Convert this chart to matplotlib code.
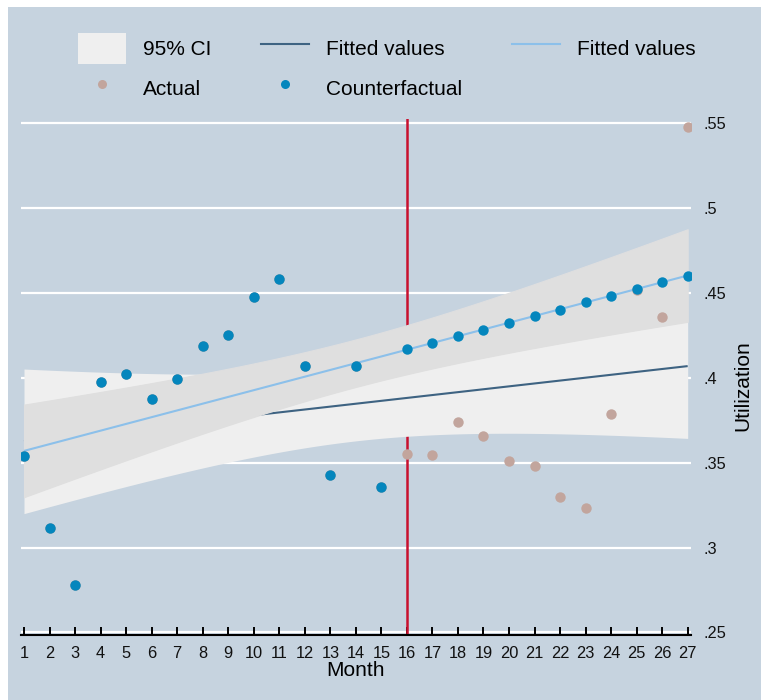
import numpy as np
import matplotlib
matplotlib.use("Agg")
import matplotlib.pyplot as plt
from matplotlib.patches import Rectangle, Patch
from matplotlib.lines import Line2D

plt.rcParams['font.family'] = ['Liberation Sans', 'DejaVu Sans']

# ---------------- data ----------------
months = np.arange(1, 28)
counterfactual = [0.354, 0.3115, 0.278, 0.3975, 0.4025, 0.3876, 0.3996, 0.4187,
                  0.4253, 0.4477, 0.4581, 0.4069, 0.3425, 0.4069, 0.3356,
                  0.4169, 0.4204, 0.4247, 0.4284, 0.4326, 0.4365, 0.4400,
                  0.4448, 0.4483, 0.4524, 0.4564, 0.4603]
actual = [0.354, 0.3115, 0.278, 0.3975, 0.4025, 0.3876, 0.3996, 0.4187,
          0.4253, 0.4477, 0.4581, 0.4069, 0.3425, 0.4069, 0.3356,
          0.355, 0.3545, 0.374, 0.366, 0.351, 0.348, 0.330, 0.3235,
          0.379, 0.452, 0.436, 0.548]
intervention_month = 16
ytick_vals = [0.25, 0.30, 0.35, 0.40, 0.45, 0.50, 0.55]
ytick_labels = ['.25', '.3', '.35', '.4', '.45', '.5', '.55']
legend_labels = ['95% CI', 'Fitted values', 'Fitted values', 'Actual', 'Counterfactual']

# colours
BG = '#C6D3DF'
CI_LIGHT = '#EFEFEF'
CI_DARK = '#DFDFDF'
NAVY = '#3E6382'
LIGHTBLUE = '#8CC0EA'
TAN = '#C2A59D'
BLUE = '#0486BD'
RED = '#C8102E'


def lfitci(x, y, grid, t=2.0595):
    x = np.asarray(x, float)
    y = np.asarray(y, float)
    b, a = np.polyfit(x, y, 1)
    resid = y - (a + b * x)
    n = len(x)
    s = np.sqrt(np.sum(resid ** 2) / (n - 2))
    sxx = np.sum((x - x.mean()) ** 2)
    fit = a + b * grid
    se = s * np.sqrt(1.0 / n + (grid - x.mean()) ** 2 / sxx)
    return fit, fit - t * se, fit + t * se


grid = np.linspace(1, 27, 300)
fit_a, lo_a, hi_a = lfitci(months, actual, grid)
fit_c, lo_c, hi_c = lfitci(months, counterfactual, grid)

# ---------------- figure ----------------
W, H = 761, 700
fig = plt.figure(figsize=(W / 100, H / 100), dpi=100, facecolor='white')
fig.patches.append(Rectangle((8 / W, 0), 1 - 8 / W, 1 - 7 / H,
                             transform=fig.transFigure, facecolor=BG,
                             edgecolor='none', zorder=-10))

ax = fig.add_axes([20.7 / W, 1 - 635 / H, 670 / W, (635 - 119.3) / H])
ax.set_zorder(1)
ax.set_facecolor(BG)
ax.set_xlim(0.871, 27.118)
ax.set_ylim(0.2485, 0.5524)

for v in ytick_vals:
    ax.axhline(v, color='white', lw=1.6, zorder=1)

ax.axvline(intervention_month, color=RED, lw=1.8, zorder=2)

ax.fill_between(grid, lo_a, hi_a, color=CI_LIGHT, lw=0, zorder=3)
ax.plot(grid, fit_a, color=NAVY, lw=1.5, zorder=4, solid_capstyle='butt')
ax.fill_between(grid, lo_c, hi_c, facecolor=CI_DARK, edgecolor=CI_DARK,
                lw=0.8, zorder=5)
ax.plot(grid, fit_c, color=LIGHTBLUE, lw=1.5, zorder=6, solid_capstyle='butt')

ax.plot(months, actual, 'o', color=TAN, ms=7.5, mec='none', zorder=7)
ax.plot(months, counterfactual, 'o', color=BLUE, ms=7.5, mec='none', zorder=8)

for s in ['top', 'left', 'right']:
    ax.spines[s].set_visible(False)
ax.spines['bottom'].set_color('black')
ax.spines['bottom'].set_linewidth(1.5)
ax.spines['bottom'].set_zorder(10)

ax.set_xticks(months)
ax.set_xticklabels([str(m) for m in months])
ax.tick_params(axis='x', direction='in', length=5.8, width=1.4, color='black',
               labelsize=11.8, pad=8, labelcolor='#111111')
ax.yaxis.tick_right()
ax.set_yticks(ytick_vals)
ax.set_yticklabels(ytick_labels)
ax.tick_params(axis='y', length=0, pad=9, labelsize=11.8, labelcolor='#111111')
for lab in ax.get_yticklabels():
    lab.set_horizontalalignment('left')

fig.text(355.7 / W, 1 - 671 / H, 'Month', ha='center', va='center', fontsize=15)
fig.text(743 / W, 1 - 386 / H, 'Utilization', ha='center', va='center',
         rotation=90, fontsize=15)

# legend
h_ci = Patch(facecolor=CI_LIGHT, edgecolor='none')
h_navy = Line2D([], [], color=NAVY, lw=1.5)
h_lb = Line2D([], [], color=LIGHTBLUE, lw=1.5)
h_act = Line2D([], [], marker='o', ls='none', color=TAN, ms=6.5, mec='none')
h_cf = Line2D([], [], marker='o', ls='none', color=BLUE, ms=6.5, mec='none')
handles = [h_ci, h_act, h_navy, h_cf, h_lb]
labels = [legend_labels[0], legend_labels[3], legend_labels[1], legend_labels[4], legend_labels[2]]
fs_px = 15 * 100 / 72
fig.legend(handles, labels, ncol=3, loc='upper left',
           bbox_to_anchor=(78.3 / W, 1 - 33.3 / H), frameon=False, fontsize=15,
           handlelength=48 / fs_px, handleheight=1.9, handletextpad=16.6 / fs_px,
           columnspacing=50 / fs_px, labelspacing=9 / fs_px, borderpad=0,
           borderaxespad=0)

fig.savefig('out.png', dpi=100, facecolor=fig.get_facecolor())
